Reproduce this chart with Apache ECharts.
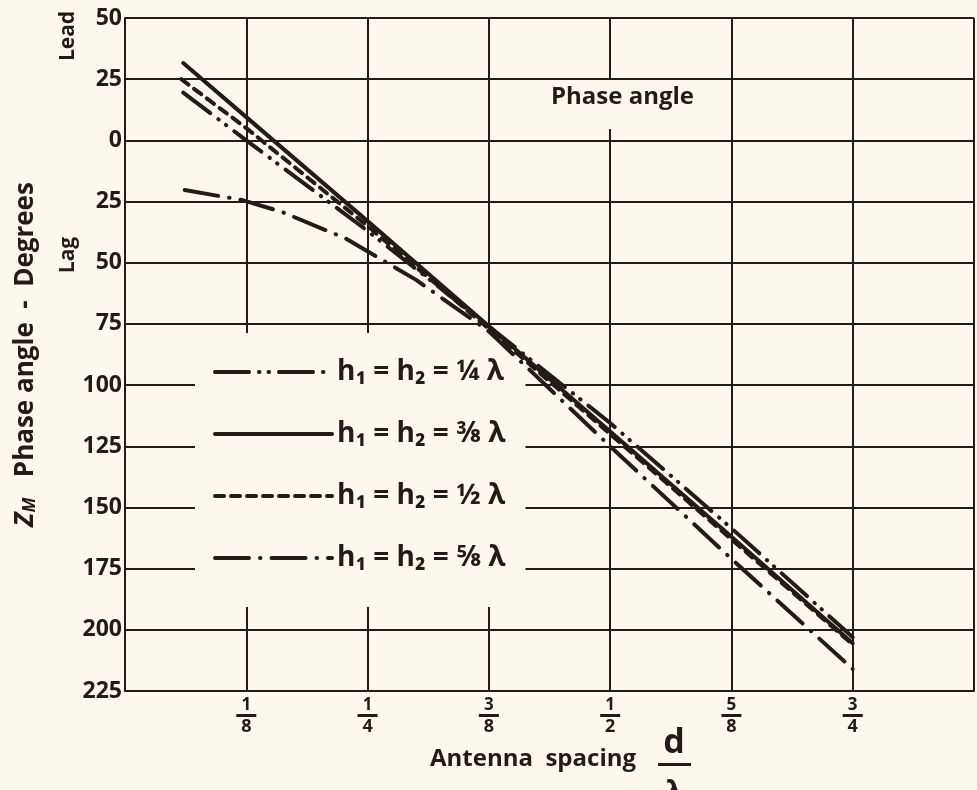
<!DOCTYPE html>
<html><head><meta charset="utf-8">
<style>html,body{margin:0;padding:0;background:#fdf8ee;} #c{width:977px;height:790px;}</style>
<script src="https://cdn.jsdelivr.net/npm/echarts@6/dist/echarts.min.js"></script>
</head><body><div id="c"></div>
<script>
// ---- data ----
const xTickValues = [0.125, 0.25, 0.375, 0.5, 0.625, 0.75];
const xTickNum = ['1', '1', '3', '1', '5', '3'];
const xTickDen = ['8', '4', '8', '2', '8', '4'];
const seriesNames = ['h\u2081 = h\u2082 = \u00bc \u03bb', 'h\u2081 = h\u2082 = \u215c \u03bb', 'h\u2081 = h\u2082 = \u00bd \u03bb', 'h\u2081 = h\u2082 = \u215d \u03bb'];
const quarterLambda = [[0.06, 19.5], [0.125, 0], [0.25, -37], [0.375, -76], [0.5, -115.5], [0.625, -158.5], [0.75, -203]];
const threeEighthsLambda = [[0.06, 31.6], [0.125, 9.5], [0.25, -33], [0.375, -76], [0.5, -119], [0.625, -162], [0.75, -205.5]];
const halfLambda = [[0.058, 25], [0.125, 5], [0.25, -35], [0.375, -77], [0.5, -120], [0.625, -163], [0.75, -206]];
const fiveEighthsLambda = [[0.0615, -20.3], [0.121, -24.4], [0.162, -29.3], [0.227, -40], [0.3, -57], [0.375, -78], [0.5, -125], [0.625, -171], [0.75, -216]];

const BG = '#fdf8ee';
const INK = '#221b19';
const FONT = '"Open Sans", "DejaVu Sans", sans-serif';

const chart = echarts.init(document.getElementById('c'));

function lineSeries(name, data, type) {
  return {
    name: name, type: 'line', data: data, symbol: 'none', smooth: false,
    lineStyle: { color: INK, width: 4, type: type, cap: 'round' },
    itemStyle: { color: INK },
    z: 5
  };
}

chart.setOption({
  backgroundColor: BG,
  animation: false,
  grid: { left: 125, right: 1, top: 18, bottom: 99 },
  xAxis: {
    type: 'value', min: 0, max: 0.875, interval: 0.125,
    axisLine: { show: true, onZero: false, lineStyle: { color: INK, width: 2 } },
    axisTick: { show: false },
    splitLine: { show: true, lineStyle: { color: INK, width: 2 } },
    axisLabel: {
      margin: 7,
      formatter: function (v) {
        const i = xTickValues.indexOf(v);
        if (i < 0) return '';
        return '{n|' + xTickNum[i] + '}\n{b|}\n{d|' + xTickDen[i] + '}';
      },
      rich: {
        n: { fontFamily: FONT, fontWeight: 'bold', fontSize: 17, lineHeight: 15, color: INK, align: 'center' },
        b: { width: 20, height: 3, lineHeight: 5, backgroundColor: INK, align: 'center' },
        d: { fontFamily: FONT, fontWeight: 'bold', fontSize: 18, lineHeight: 18, color: INK, align: 'center' }
      }
    }
  },
  yAxis: {
    type: 'value', min: -225, max: 50, interval: 25,
    axisLine: { show: true, lineStyle: { color: INK, width: 2 } },
    axisTick: { show: false },
    splitLine: { show: true, lineStyle: { color: INK, width: 2 } },
    axisLabel: {
      margin: 3, color: INK, fontFamily: FONT, fontWeight: 'bold', fontSize: 23,
      formatter: function (v) { return String(Math.abs(v)); }
    },
    name: '{z|Z}{m|M}{t|   Phase angle  -  Degrees}',
    nameLocation: 'middle', nameRotate: 90, nameGap: 86,
    nameTextStyle: {
      rich: {
        z: { fontFamily: FONT, fontWeight: 'bold', fontStyle: 'italic', fontSize: 27, color: INK },
        m: { fontFamily: FONT, fontWeight: 'bold', fontStyle: 'italic', fontSize: 17, color: INK, padding: [9, 0, 0, 0] },
        t: { fontFamily: FONT, fontWeight: 'bold', fontSize: 26, color: INK }
      }
    }
  },
  legend: {
    orient: 'vertical', left: 195, top: 333, z: 1,
    backgroundColor: BG,
    padding: [22, 20, 32, 18],
    itemWidth: 117, itemHeight: 14, itemGap: 28,
    selectedMode: false,
    itemStyle: { opacity: 0 },
    lineStyle: { width: 4, cap: 'round' },
    textStyle: { fontFamily: FONT, fontWeight: 'bold', fontSize: 28, color: INK, lineHeight: 34 },
    data: seriesNames
  },
  series: [
    lineSeries(seriesNames[0], quarterLambda, [34, 10, 0.5, 9, 0.5, 10]),
    lineSeries(seriesNames[1], threeEighthsLambda, 'solid'),
    lineSeries(seriesNames[2], halfLambda, [9, 7]),
    lineSeries(seriesNames[3], fiveEighthsLambda, [34, 11, 0.5, 11])
  ],
  graphic: [
    { type: 'text', left: 545, top: 80, z: 10,
      style: { text: 'Phase angle', font: 'bold 24px ' + FONT, fill: INK, backgroundColor: BG, padding: [5, 6, 20, 6] } },
    { type: 'text', x: 68, y: 36, rotation: Math.PI / 2, z: 10,
      style: { text: 'Lead', font: 'bold 21px ' + FONT, fill: INK, align: 'center', verticalAlign: 'middle' } },
    { type: 'text', x: 68, y: 255, rotation: Math.PI / 2, z: 10,
      style: { text: 'Lag', font: 'bold 21px ' + FONT, fill: INK, align: 'center', verticalAlign: 'middle' } },
    { type: 'text', left: 430, top: 747, z: 10,
      style: { text: 'Antenna  spacing', font: 'bold 24px ' + FONT, fill: INK } },
    { type: 'text', x: 674, y: 743, z: 10,
      style: { text: 'd', font: 'bold 34px ' + FONT, fill: INK, align: 'center', verticalAlign: 'middle' } },
    { type: 'rect', shape: { x: 658, y: 763, width: 33, height: 3 }, style: { fill: INK }, z: 10 },
    { type: 'text', x: 674, y: 793, z: 10,
      style: { text: '\u03bb', font: 'bold 28px ' + FONT, fill: INK, align: 'center', verticalAlign: 'middle' } }
  ]
});
</script></body></html>
